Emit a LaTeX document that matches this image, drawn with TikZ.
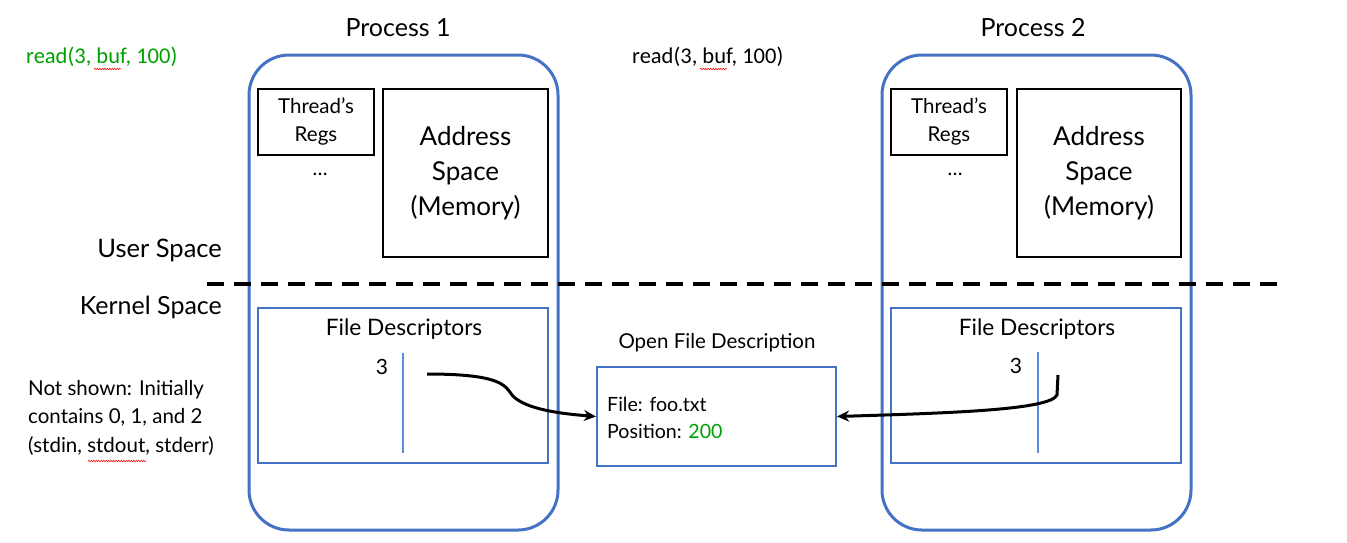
\documentclass[tikz,border=0pt]{standalone}
\usepackage{fontspec}
\setmainfont{Lato}
\newfontfamily\calfont{Carlito}
\usetikzlibrary{decorations.pathmorphing,arrows.meta}
\definecolor{pblue}{RGB}{68,114,196}
\definecolor{lblue}{RGB}{91,141,222}
\definecolor{dgreen}{RGB}{0,160,0}
\tikzset{
  proc/.style={draw=pblue,line width=3pt,rounded corners=40pt},
  blk/.style={draw=black,line width=2.5pt},
  fdbox/.style={draw=pblue,line width=2.2pt},
  txt/.style={inner sep=0pt,font=#1},
  fdline/.style={draw=lblue,line width=1.2pt},
  ptr/.style={draw=black,line width=3pt,-{Stealth[length=12pt,width=11pt]}},
  squig/.style={draw=red,line width=0.5pt,decorate,decoration={snake,amplitude=0.8pt,segment length=2.5pt}}
}
\begin{document}
\begin{tikzpicture}[x=1pt,y=-1pt]
\useasboundingbox (0,0) rectangle (1347,542);
% processes
\node[txt={\fontsize{25}{28}\selectfont}] (p1t) at (398,28) {Process 1};
\node[txt={\fontsize{25}{28}\selectfont}] (p2t) at (1033,28) {Process 2};
\draw[proc] (249,55) rectangle (558,530);
\draw[proc] (882,55) rectangle (1191,530);
% user space boxes
\node[blk,minimum width=116pt,minimum height=66pt,align=center,font=\fontsize{20.5}{28}\selectfont] (tr1) at (316,122) {Thread’s\\Regs};
\node[blk,minimum width=165pt,minimum height=168pt,align=center,font=\fontsize{26}{35}\selectfont] (as1) at (465.5,173) {Address\\Space\\(Memory)};
\node[txt={\fontsize{20}{24}\selectfont}] (d1) at (320,174) {\dots};
\node[blk,minimum width=116pt,minimum height=66pt,align=center,font=\fontsize{20.5}{28}\selectfont] (tr2) at (949,122) {Thread’s\\Regs};
\node[blk,minimum width=164pt,minimum height=168pt,align=center,font=\fontsize{26}{35}\selectfont] (as2) at (1099,173) {Address\\Space\\(Memory)};
\node[txt={\fontsize{20}{24}\selectfont}] (d2) at (955,174) {\dots};
% divider
\coordinate (dl) at (207,284);
\coordinate (dr) at (1285,284);
\draw[line width=4pt,dash pattern=on 17pt off 10pt] (dl) -- (dr);
\node[txt={\fontsize{25.5}{28}\selectfont},anchor=east] (us) at (222,250) {User Space};
\node[txt={\fontsize{25}{28}\selectfont},anchor=east] (ks) at (222,307) {Kernel Space};
% reads
\node[txt={\calfont\fontsize{22.5}{26}\selectfont\color{dgreen}},anchor=west] (r1) at (26,57) {read(3, buf, 100)};
\node[txt={\calfont\fontsize{22.5}{26}\selectfont},anchor=west] (r2) at (632,57) {read(3, buf, 100)};
\draw[squig] (94,69) -- (121,69);
\draw[squig] (700,69) -- (727,69);
% FD boxes
\draw[fdbox] (258,308) rectangle (548,463);
\node[txt={\fontsize{22.7}{26}\selectfont}] (fd1) at (404,329) {File Descriptors};
\coordinate (v1a) at (403,353); \coordinate (v1b) at (403,453);
\draw[fdline] (v1a) -- (v1b);
\node[txt={\fontsize{21}{24}\selectfont}] (n1) at (382,367) {3};
\draw[fdbox] (891,308) rectangle (1181,463);
\node[txt={\fontsize{22.7}{26}\selectfont}] (fd2) at (1037,329) {File Descriptors};
\coordinate (v2a) at (1038,352); \coordinate (v2b) at (1038,453);
\draw[fdline] (v2a) -- (v2b);
\node[txt={\fontsize{21}{24}\selectfont}] (n2) at (1016,366) {3};
% open file description
\node[txt={\fontsize{20.5}{24}\selectfont}] (oft) at (717,343) {Open File Description};
\node[fdbox,minimum width=239pt,minimum height=99pt] (ofd) at (716.5,416.5) {};
\node[txt={\fontsize{19.6}{24}\selectfont},anchor=west] (f1) at (607,404) {File: foo.txt};
\node[txt={\fontsize{19.6}{24}\selectfont},anchor=west] (f2) at (607,431) {Position: \textcolor{dgreen}{200}};
% notes
\node[txt={\fontsize{20.5}{28.5}\selectfont},anchor=north west,align=left] (note) at (28,380) {Not shown: Initially\\contains 0, 1, and 2\\(stdin, stdout, stderr)};
\draw[squig] (88,461) -- (146,461);
% pointers
\coordinate (s1) at (427,374);
\coordinate (s2) at (1058,375);
\draw[ptr] (s1) .. controls (500,374) and (505,385) .. (512,395) .. controls (525,410) and (565,414) .. (ofd.west);
\draw[ptr] (s2) -- (1057,395) .. controls (1050,410) and (950,413) .. (ofd.east);
\end{tikzpicture}
\end{document}
